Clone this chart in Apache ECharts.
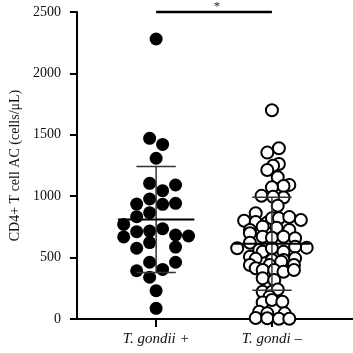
<!DOCTYPE html>
<html>
<head>
<meta charset="utf-8">
<title>CD4+ T cell AC</title>
<script src="https://cdn.jsdelivr.net/npm/echarts@6/dist/echarts.min.js"></script>
<style>
    html, body { margin: 0; padding: 0; background: #fff; }
    #main { width: 353px; height: 353px; }
</style>
</head>
<body>
<div id="main"></div>
<script>
    // 分组
    var groups = ['T. gondii +', 'T. gondi –'];
    var groupPos = [1, 2];

    // T. gondii + (实心点)
    var posValues = [2280, 1471, 1422, 1309, 1105, 1091, 1045, 936, 977, 934,
        942, 833, 866, 770, 711, 716, 735, 668, 684, 676,
        622, 576, 586, 462, 462, 393, 404, 340, 231, 87];
    // 横向散开量（x轴单位）
    var posSpread = [0, -0.056, 0.056, 0, -0.056, 0.168, 0.056, -0.168, -0.056, 0.056,
        0.168, -0.168, -0.056, -0.28, -0.168, -0.056, 0.056, -0.28, 0.168, 0.28,
        -0.056, -0.168, 0.168, -0.056, 0.168, -0.168, 0.056, -0.056, 0, 0];

    // T. gondi – (空心点)
    var negValues = [1700, 1390, 1355, 1262, 1248, 1213, 1155, 1092, 1083, 1072,
        1003, 990, 995, 922, 861, 800, 790, 785, 820, 820,
        830, 806, 725, 752, 743, 725, 698, 670, 662, 670,
        657, 621, 576, 581, 589, 562, 548, 576, 548, 507,
        490, 480, 494, 480, 440, 413, 440, 467, 440, 399,
        399, 385, 399, 331, 318, 222, 222, 240, 182, 135,
        155, 141, 59, 46, 46, 8, 6, 2, 2];
    var negSpread = [0, 0.06, -0.04, 0.06, 0.01, -0.04, 0.05, 0.15, 0.10, 0,
        -0.09, 0.10, 0.01, 0.05, -0.14, -0.24, -0.14, -0.04, 0, 0.06,
        0.15, 0.25, -0.19, -0.08, 0.04, 0.15, -0.19, -0.08, 0, 0.10,
        0.20, -0.19, -0.30, 0.30, 0.20, -0.11, -0.08, 0, 0.10, -0.19,
        -0.14, 0.10, 0.20, 0, -0.19, -0.14, -0.02, 0.08, 0.19, -0.08,
        0.02, 0.10, 0.19, -0.08, 0.02, -0.08, 0, 0.05, -0.02, -0.08,
        0, 0.09, -0.11, -0.04, 0.11, -0.14, -0.04, 0.06, 0.15];

    var yTicks = [0, 500, 1000, 1500, 2000, 2500];
    var sigLevel = 2500;   // 显著性横线所在高度
    var sigMark = '*';

    function meanSd(arr) {
        var sum = 0;
        arr.forEach(function (v) { sum += v; });
        var m = sum / arr.length;
        var ss = 0;
        arr.forEach(function (v) { ss += (v - m) * (v - m); });
        return [m, Math.sqrt(ss / (arr.length - 1))];
    }

    function toPoints(pos, values, spread) {
        return values.map(function (v, i) { return [pos + spread[i], v]; });
    }

    var s1 = meanSd(posValues);
    var s2 = meanSd(negValues);

    var serif = '"Liberation Serif", "DejaVu Serif", serif';
    var chart = echarts.init(document.getElementById('main'));
    var option = {
        animation: false,
        grid: {left: 72, right: 0, top: 12, bottom: 34},
        xAxis: {
            type: 'value',
            min: 0.316,
            max: 2.70,
            splitLine: {show: false},
            axisLine: {lineStyle: {color: '#000', width: 2}},
            axisTick: {customValues: groupPos, length: 8, lineStyle: {color: '#000', width: 2}},
            axisLabel: {
                customValues: groupPos,
                margin: 13,
                color: '#111',
                fontFamily: serif,
                fontStyle: 'italic',
                fontSize: 15,
                formatter: function (v) { return groups[Math.round(v) - 1]; }
            }
        },
        yAxis: {
            type: 'value',
            min: yTicks[0],
            max: yTicks[yTicks.length - 1],
            interval: 500,
            name: 'CD4+ T cell AC (cells/μL)',
            nameLocation: 'middle',
            nameGap: 49,
            nameTextStyle: {color: '#111', fontFamily: serif, fontSize: 14},
            splitLine: {show: false},
            axisLine: {show: true, lineStyle: {color: '#000', width: 2}},
            axisTick: {show: true, length: 7, lineStyle: {color: '#000', width: 2}},
            axisLabel: {
                margin: 16, color: '#111', fontFamily: serif, fontSize: 14,
                formatter: function (v) { return String(v); }
            }
        },
        series: [
            {
                name: groups[0],
                type: 'scatter',
                symbol: 'circle',
                symbolSize: 13,
                itemStyle: {color: '#000', opacity: 1},
                data: toPoints(groupPos[0], posValues, posSpread)
            },
            {
                name: groups[1],
                type: 'scatter',
                symbol: 'circle',
                symbolSize: 12,
                itemStyle: {color: '#fff', borderColor: '#000', borderWidth: 2, opacity: 1},
                data: toPoints(groupPos[1], negValues, negSpread)
            },
            {
                // 均值 ± SD
                type: 'custom',
                z: 5,
                data: [[groupPos[0], s1[0], s1[1]], [groupPos[1], s2[0], s2[1]]],
                renderItem: function (params, api) {
                    var x = api.value(0), m = api.value(1), sd = api.value(2);
                    var c = api.coord([x, m]);
                    var hi = api.coord([x, m + sd]);
                    var lo = api.coord([x, m - sd]);
                    var halfMean = api.size([0.33, 0])[0];
                    var halfCap = api.size([0.17, 0])[0];
                    var sdStyle = {stroke: '#333', lineWidth: 1.5};
                    return {
                        type: 'group',
                        children: [
                            {type: 'line', shape: {x1: hi[0], y1: hi[1], x2: lo[0], y2: lo[1]}, style: sdStyle},
                            {type: 'line', shape: {x1: hi[0] - halfCap, y1: hi[1], x2: hi[0] + halfCap, y2: hi[1]}, style: sdStyle},
                            {type: 'line', shape: {x1: lo[0] - halfCap, y1: lo[1], x2: lo[0] + halfCap, y2: lo[1]}, style: sdStyle},
                            {type: 'line', shape: {x1: c[0] - halfMean, y1: c[1], x2: c[0] + halfMean, y2: c[1]}, style: {stroke: '#000', lineWidth: 2}}
                        ]
                    };
                }
            },
            {
                // 显著性标记
                type: 'custom',
                clip: false,
                z: 6,
                data: [[groupPos[0], groupPos[1], sigLevel]],
                renderItem: function (params, api) {
                    var a = api.coord([api.value(0), api.value(2)]);
                    var b = api.coord([api.value(1), api.value(2)]);
                    return {
                        type: 'group',
                        children: [
                            {type: 'line', shape: {x1: a[0], y1: a[1], x2: b[0], y2: b[1]}, style: {stroke: '#000', lineWidth: 2.5}},
                            {
                                type: 'text',
                                x: (a[0] + b[0]) / 2 + 3,
                                y: a[1] - 12,
                                style: {text: sigMark, fill: '#222', font: '13px ' + serif, align: 'center', verticalAlign: 'top'}
                            }
                        ]
                    };
                }
            }
        ]
    };
    chart.setOption(option);
</script>
</body>
</html>
